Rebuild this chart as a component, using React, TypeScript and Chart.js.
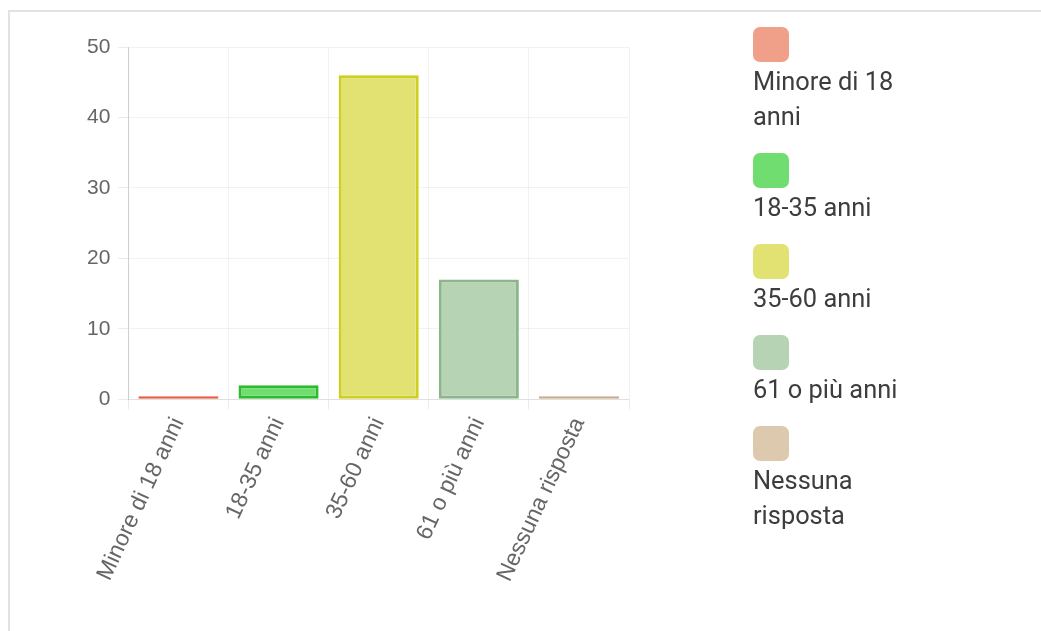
import React, { useEffect, useRef } from "react";
import { Chart, registerables } from "chart.js";

Chart.register(...registerables);

const categories = ["Minore di 18 anni", "18-35 anni", "35-60 anni", "61 o più anni", "Nessuna risposta"];
const values = [0, 2, 46, 17, 0];
const fillColors = ["#f0a088", "#70dd70", "#e1e272", "#b6d3b4", "#ddc9ae"];
const borderColors = ["#e85d3e", "#2dbb2d", "#cfcf1e", "#8bb58b", "#c9ab8a"];
const yTicks = [0, 10, 20, 30, 40, 50];

export default function App() {
  const canvasRef = useRef<HTMLCanvasElement | null>(null);

  useEffect(() => {
    if (!canvasRef.current) return;
    const chart = new Chart(canvasRef.current, {
      type: "bar",
      data: {
        labels: categories,
        datasets: [
          {
            data: values,
            backgroundColor: fillColors,
            borderColor: borderColors,
            borderWidth: 3,
            borderSkipped: false,
            minBarLength: 3,
            barPercentage: 0.8,
            categoryPercentage: 1,
          },
        ],
      },
      options: {
        animation: false,
        responsive: true,
        maintainAspectRatio: false,
        layout: { padding: { top: 35, right: 21, bottom: 0, left: 69 } },
        plugins: { legend: { display: false }, tooltip: { enabled: false } },
        scales: {
          x: {
            grid: { color: "rgba(0,0,0,0.05)", tickLength: 10, tickColor: "rgba(0,0,0,0.08)" },
            border: { color: "rgba(0,0,0,0.08)" },
            ticks: {
              color: "#666",
              font: { family: "'Liberation Sans', Arial, sans-serif", size: 23 },
              minRotation: 65,
              maxRotation: 65,
              padding: 4,
            },
          },
          y: {
            min: 0,
            max: 50,
            afterBuildTicks: (axis: any) => {
              axis.ticks = yTicks.map((v) => ({ value: v }));
            },
            grid: { color: "rgba(0,0,0,0.05)", tickLength: 10, tickColor: "rgba(0,0,0,0.08)" },
            border: { color: "rgba(0,0,0,0.15)" },
            ticks: {
              color: "#666",
              font: { family: "'Liberation Sans', Arial, sans-serif", size: 21 },
              padding: 8,
            },
          },
        },
      },
    });
    return () => chart.destroy();
  }, []);

  return (
    <div
      style={{
        position: "fixed",
        left: 8,
        top: 10,
        right: 0,
        bottom: 0,
        borderTop: "2px solid #e2e2e2",
        borderLeft: "2px solid #e2e2e2",
        boxSizing: "border-box",
        overflow: "hidden",
      }}
    >
      <div style={{ position: "absolute", left: 0, top: 0, width: 640, height: 578 }}>
        <canvas ref={canvasRef} />
      </div>
      <div
        style={{
          position: "absolute",
          left: 743,
          top: 15,
          width: 165,
          fontFamily: "Roboto, sans-serif",
          fontSize: 25.4,
          lineHeight: "35px",
          color: "#3d3d3d",
        }}
      >
        {categories.map((c, i) => (
          <div key={c} style={{ marginBottom: 19 }}>
            <div
              style={{
                width: 36,
                height: 35,
                borderRadius: 7,
                background: fillColors[i],
                marginBottom: 2,
              }}
            />
            <div>{c}</div>
          </div>
        ))}
      </div>
    </div>
  );
}
